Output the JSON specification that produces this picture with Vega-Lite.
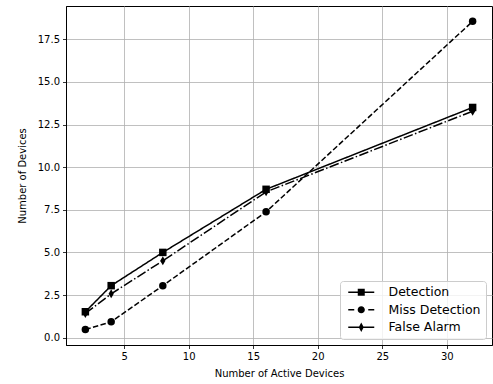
{
  "$schema": "https://vega.github.io/schema/vega-lite/v6.json",
  "width": 426,
  "height": 339,
  "autosize": "none",
  "padding": {"left": 66, "top": 6, "right": 1, "bottom": 39},
  "background": "white",
  "config": {
    "font": "DejaVu Sans",
    "view": {"stroke": "black", "strokeWidth": 1},
    "axis": {
      "labelFont": "DejaVu Sans", "labelFontSize": 10, "labelColor": "black",
      "titleFont": "DejaVu Sans", "titleFontSize": 10, "titleFontWeight": "normal", "titleColor": "black",
      "tickColor": "black", "tickSize": 3.5, "tickWidth": 0.8, "labelPadding": 3,
      "domainColor": "black", "domainWidth": 1,
      "gridColor": "#b0b0b0", "gridWidth": 0.8, "gridOpacity": 1
    },
    "legend": {
      "labelFont": "DejaVu Sans", "labelFontSize": 12.5, "labelColor": "black",
      "strokeColor": "#cccccc", "fillColor": "rgba(255,255,255,0.8)", "cornerRadius": 3,
      "padding": 5, "rowPadding": 4.5, "labelOffset": 21, "symbolOffset": 10, "symbolSize": 100,
      "symbolStrokeColor": "black", "symbolFillColor": "black", "symbolStrokeWidth": 0,
      "symbolOpacity": 1
    }
  },
  "data": {
    "values": [
      {"x": 2, "y": 1.52, "s": "Detection"},
      {"x": 4, "y": 3.05, "s": "Detection"},
      {"x": 8, "y": 5.0, "s": "Detection"},
      {"x": 16, "y": 8.7, "s": "Detection"},
      {"x": 32, "y": 13.5, "s": "Detection"},
      {"x": 2, "y": 0.48, "s": "Miss Detection"},
      {"x": 4, "y": 0.93, "s": "Miss Detection"},
      {"x": 8, "y": 3.05, "s": "Miss Detection"},
      {"x": 16, "y": 7.38, "s": "Miss Detection"},
      {"x": 32, "y": 18.55, "s": "Miss Detection"},
      {"x": 2, "y": 1.42, "s": "False Alarm"},
      {"x": 4, "y": 2.57, "s": "False Alarm"},
      {"x": 8, "y": 4.51, "s": "False Alarm"},
      {"x": 16, "y": 8.55, "s": "False Alarm"},
      {"x": 32, "y": 13.28, "s": "False Alarm"}
    ]
  },
  "encoding": {
    "x": {"field": "x", "type": "quantitative",
      "scale": {"domain": [0.5, 33.5], "nice": false, "zero": false},
      "axis": {"title": "Number of Active Devices", "values": [5, 10, 15, 20, 25, 30], "format": "d", "titlePadding": 7}},
    "y": {"field": "y", "type": "quantitative",
      "scale": {"domain": [-0.43, 19.45], "nice": false, "zero": false},
      "axis": {"title": "Number of Devices", "values": [0, 2.5, 5, 7.5, 10, 12.5, 15, 17.5], "format": ".1f", "titlePadding": 10}}
  },
  "layer": [
    {
      "mark": {"type": "line", "color": "black", "strokeWidth": 1.5},
      "encoding": {
        "strokeDash": {"field": "s", "type": "nominal",
          "scale": {"range": [[1, 0], [9.6, 2.4, 1.5, 2.4], [5.5, 2.4]]},
          "legend": null}
      }
    },
    {
      "transform": [{"filter": {"field": "s", "equal": "Detection"}}],
      "mark": {"type": "point", "shape": "square", "filled": true, "color": "black", "opacity": 1, "size": 56}
    },
    {
      "transform": [{"filter": {"field": "s", "equal": "Miss Detection"}}],
      "mark": {"type": "point", "shape": "circle", "filled": true, "color": "black", "opacity": 1, "size": 56}
    },
    {
      "transform": [{"filter": {"field": "s", "equal": "False Alarm"}}],
      "mark": {"type": "point", "shape": "M0,-1.2L0.7,0L0,1.2L-0.7,0Z", "filled": true, "color": "black", "opacity": 1, "size": 56}
    },
    {
      "mark": {"type": "point", "filled": true, "color": "black", "opacity": 0, "size": 100},
      "encoding": {
        "shape": {"field": "s", "type": "nominal",
          "scale": {"domain": ["Detection", "Miss Detection", "False Alarm"],
            "range": [
              "M-2.6,-0.15H2.6V0.15H-2.6ZM-0.7,-0.7H0.7V0.7H-0.7Z",
              "M-2.6,-0.15H-1.4V0.15H-2.6ZM1.4,-0.15H2.6V0.15H1.4ZM-0.72,0A0.72,0.72,0,1,1,0.72,0A0.72,0.72,0,1,1,-0.72,0Z",
              "M-2.6,-0.15H2.6V0.15H-2.6ZM0,-0.95L0.5,0L0,0.95L-0.5,0Z"
            ]},
          "legend": {"title": null, "orient": "bottom-right", "offset": 6, "symbolOpacity": 1}}
      }
    }
  ]
}
